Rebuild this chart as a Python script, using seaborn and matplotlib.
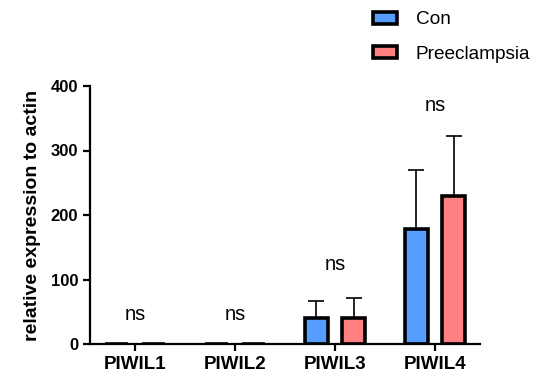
import numpy as np
import pandas as pd
import matplotlib
matplotlib.use("Agg")
import matplotlib.pyplot as plt
import seaborn as sns
from matplotlib.patches import Patch

# data
genes = ["PIWIL1", "PIWIL2", "PIWIL3", "PIWIL4"]
groups = ["Con", "Preeclampsia"]
con_mean = [0.4, 0.3, 40, 178]
con_sd = [0.2, 0.2, 26, 91]
pre_mean = [0.4, 0.3, 41, 229]
pre_sd = [0.2, 0.2, 31, 93]
sig_labels = ["ns", "ns", "ns", "ns"]
sig_y = [45, 45, 124, 370]

colors = {"Con": "#559EFF", "Preeclampsia": "#FF8080"}

df = pd.DataFrame({
    "gene": genes * 2,
    "group": ["Con"] * 4 + ["Preeclampsia"] * 4,
    "value": con_mean + pre_mean,
    "sd": con_sd + pre_sd,
})

sns.set_style("ticks")
plt.rcParams["font.family"] = ["Arial", "Liberation Sans", "DejaVu Sans"]
plt.rcParams["text.color"] = "black"
plt.rcParams["axes.labelcolor"] = "black"
plt.rcParams["xtick.color"] = "black"
plt.rcParams["ytick.color"] = "black"
plt.rcParams["axes.edgecolor"] = "black"

fig = plt.figure(figsize=(5.44, 3.81), dpi=100)
ax = fig.add_axes([90 / 544, 1 - 344 / 381, 390 / 544, 258 / 381])

sns.barplot(data=df, x="gene", y="value", hue="group", order=genes,
            hue_order=groups, palette=colors, saturation=1, width=0.75, gap=0.39,
            errorbar=None, edgecolor="black", linewidth=2.6, legend=False, ax=ax)

# upward-only error bars
for p, (_, row) in zip(ax.patches, df.iterrows()):
    xc = p.get_x() + p.get_width() / 2
    ax.errorbar(xc, row["value"], yerr=[[0], [row["sd"]]], fmt="none",
                ecolor="black", elinewidth=1.2, capsize=6, capthick=1.2, zorder=1)

for i, (lab, yy) in enumerate(zip(sig_labels, sig_y)):
    ax.text(i, yy, lab, ha="center", va="center", fontsize=14.5)

ax.set_xlim(-0.45, 3.45)
ax.set_ylim(0, 400)
ax.set_yticks([0, 100, 200, 300, 400])
ax.set_xlabel("")
ax.set_ylabel("relative expression to actin", fontsize=14, fontweight="bold", labelpad=7)
for s in ["top", "right"]:
    ax.spines[s].set_visible(False)
for s in ["left", "bottom"]:
    ax.spines[s].set_linewidth(1.6)
ax.tick_params(axis="both", width=1.6, length=5)
ax.tick_params(axis="x", labelsize=13.5)
ax.tick_params(axis="y", labelsize=12)
for t in ax.get_xticklabels() + ax.get_yticklabels():
    t.set_fontweight("bold")

handles = [Patch(facecolor=colors[g], edgecolor="black", linewidth=2.6, label=g) for g in groups]
fig.legend(handles=handles, loc="upper left", bbox_to_anchor=(356 / 544, 1.015),
           frameon=False, fontsize=13.7, handlelength=1.25, handleheight=0.6,
           labelspacing=0.92, handletextpad=1.0)

fig.savefig("out.png", dpi=100)
